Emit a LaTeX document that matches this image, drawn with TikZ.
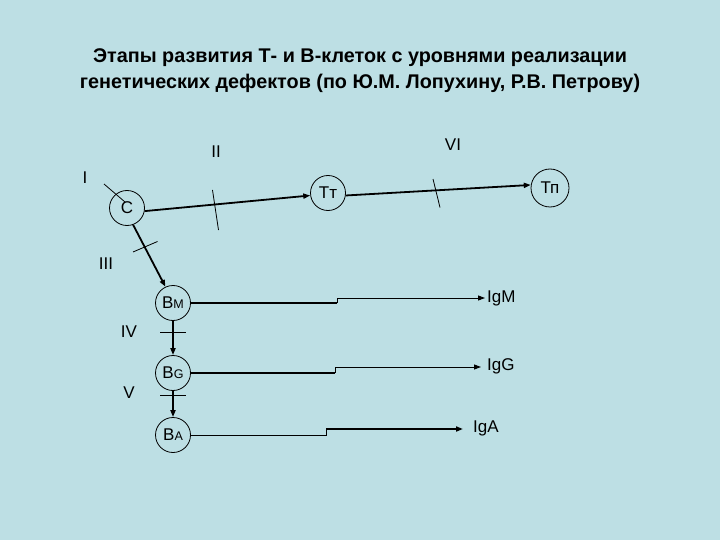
\documentclass[tikz,border=0pt]{standalone}
\usepackage{fontspec}
\setmainfont{Liberation Sans}
\usetikzlibrary{arrows.meta}
\definecolor{bg}{RGB}{189,223,228}
\begin{document}
\begin{tikzpicture}[x=1pt,y=-1pt,
  cell/.style={draw,circle,line width=0.8pt,minimum size=35pt,inner sep=0pt,font=\fontsize{17}{17}\selectfont},
  lab/.style={font=\fontsize{17}{17}\selectfont,inner sep=0pt},
  thickln/.style={line width=1.8pt},
  thinln/.style={line width=0.9pt},
  arr/.style={-{Triangle[length=7pt,width=5pt]}},
  tick/.style={line width=0.8pt}]
\fill[bg] (0,0) rectangle (720,540);
\useasboundingbox (0,0) rectangle (720,540);
% title
\node[font=\bfseries\fontsize{19.8}{26}\selectfont,align=center,inner sep=0pt] (title) at (360,71)
  {Этапы развития Т- и В-клеток с уровнями реализации\\генетических дефектов (по Ю.М. Лопухину, Р.В. Петрову)};
% cells
\node[cell] (C) at (127,208) {С};
\node[cell] (Tt) at (328,193) {Тт};
\node[cell,minimum size=38pt] (Tp) at (550,188) {Тп};
\node[cell] (Bm) at (173,303) {В{\fontsize{12.5}{12.5}\selectfont М}};
\node[cell] (Bg) at (173,373) {В{\fontsize{12.5}{12.5}\selectfont G}};
\node[cell] (Ba) at (173,435) {В{\fontsize{12.5}{12.5}\selectfont A}};
% outputs
\node[lab,anchor=west] (IgM) at (487,298) {IgM};
\node[lab,anchor=west] (IgG) at (487,366) {IgG};
\node[lab,anchor=west] (IgA) at (473,428) {IgA};
% stage labels
\node[lab] (l1) at (85,178) {I};
\node[lab] (l2) at (216,152) {II};
\node[lab] (l3) at (106,264) {III};
\node[lab] (l4) at (129,332) {IV};
\node[lab] (l5) at (129,393) {V};
\node[lab] (l6) at (453,145) {VI};
% main arrows
\draw[thickln,arr] (C.-10) -- (Tt.188);
\draw[thickln,arr] (Tt.-8) -- (Tp.171);
\draw[thickln,arr] (C.-70) -- (Bm.115);
\draw[thickln,arr] (Bm.south) -- (Bg.north);
\draw[thickln,arr] (Bg.south) -- (Ba.north);
% B outputs
\coordinate (m1) at (337,303); \coordinate (m2) at (337,298);
\draw[thickln] (Bm.east) -- (m1);
\draw[thinln] (m1) -- (m2);
\draw[thinln,arr] (m2) -- ([xshift=-2pt]IgM.west);
\coordinate (g1) at (335,373); \coordinate (g2) at (335,367);
\draw[thickln] (Bg.east) -- (g1);
\draw[thinln] (g1) -- (g2);
\draw[thinln,arr] (g2) -- ([xshift=-6pt]IgG.west|-g2);
\coordinate (a1) at (326,435); \coordinate (a2) at (326,429);
\draw[thinln] (Ba.east) -- (a1) -- (a2);
\draw[thickln,arr] (a2) -- ([xshift=-10pt]IgA.west|-a2);
% ticks
\coordinate (t1a) at (104,184); \coordinate (t1b) at (125,202);
\draw[tick] (t1a) -- (t1b);
\coordinate (t2a) at (212.5,190); \coordinate (t2b) at (218.5,230);
\draw[tick] (t2a) -- (t2b);
\coordinate (t3a) at (133,252); \coordinate (t3b) at (157.5,241.5);
\draw[tick] (t3a) -- (t3b);
\coordinate (t6a) at (433,179); \coordinate (t6b) at (440,207.5);
\draw[tick] (t6a) -- (t6b);
\coordinate (t4a) at (160,332); \coordinate (t4b) at (186,332);
\draw[tick] (t4a) -- (t4b);
\coordinate (t5a) at (160,395); \coordinate (t5b) at (186,395);
\draw[tick] (t5a) -- (t5b);
\end{tikzpicture}
\end{document}
